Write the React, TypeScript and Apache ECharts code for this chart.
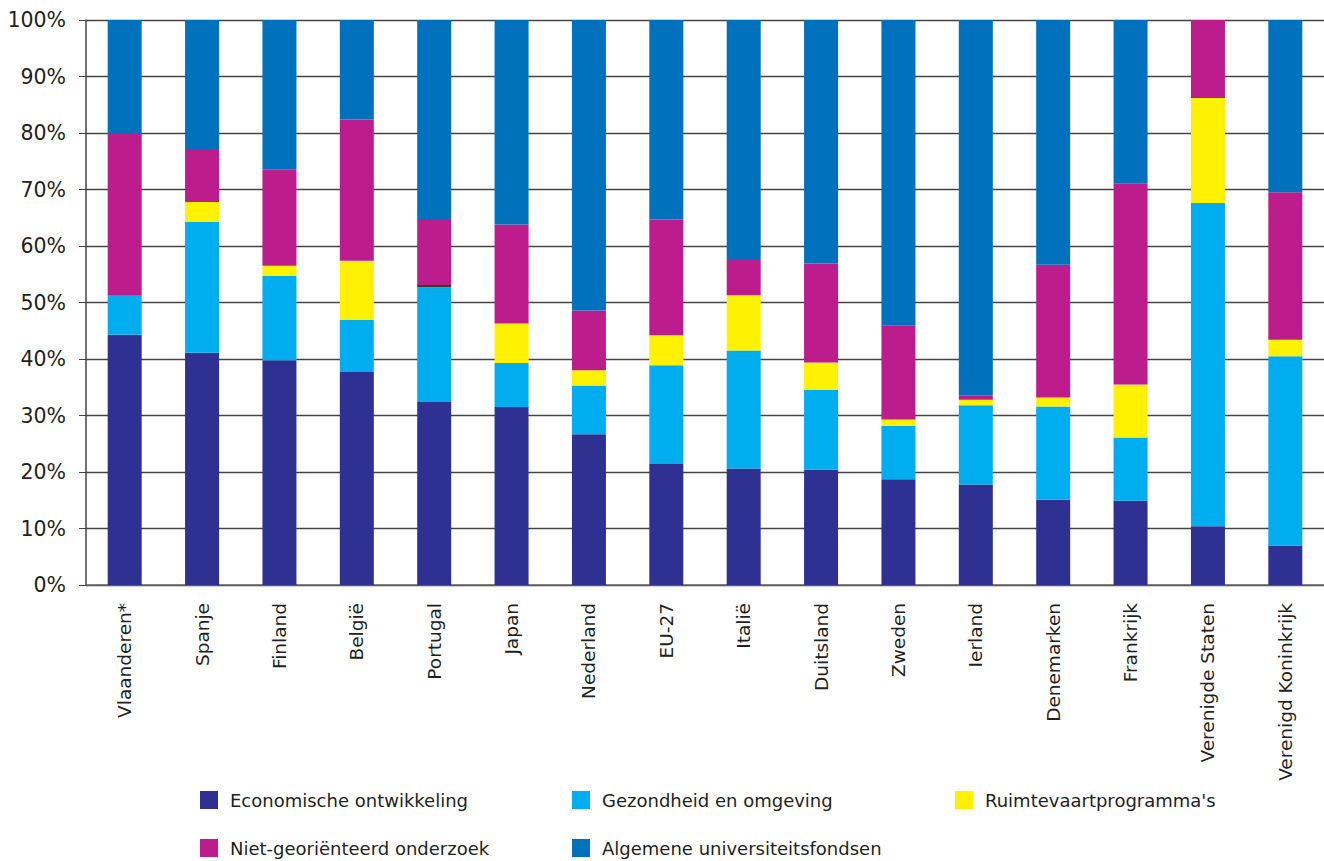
import React, { useEffect, useRef } from "react";
import * as echarts from "echarts";

const categories = [
  "Vlaanderen*", "Spanje", "Finland", "België", "Portugal", "Japan", "Nederland", "EU-27",
  "Italië", "Duitsland", "Zweden", "Ierland", "Denemarken", "Frankrijk", "Verenigde Staten", "Verenigd Koninkrijk",
];

const economisch = [44.3, 41.1, 39.8, 37.7, 32.4, 31.5, 26.7, 21.4, 20.6, 20.4, 18.7, 17.8, 15.1, 14.9, 10.4, 7.0];
const gezondheid = [6.9, 23.2, 14.9, 9.2, 20.3, 7.8, 8.6, 17.5, 20.9, 14.1, 9.5, 14.0, 16.5, 11.2, 57.2, 33.5];
const ruimtevaart = [0, 3.5, 1.8, 10.5, 0.4, 7.0, 2.7, 5.3, 9.8, 4.9, 1.1, 1.0, 1.6, 9.4, 18.6, 2.9];
const nietGeorienteerd = [28.8, 9.2, 17.0, 25.0, 11.7, 17.5, 10.6, 20.5, 6.4, 17.5, 16.6, 0.7, 23.5, 35.5, 13.8, 26.1];
const universiteit = [20.0, 23.0, 26.5, 17.6, 35.2, 36.2, 51.4, 35.3, 42.3, 43.1, 54.1, 66.5, 43.3, 29.0, 0, 30.5];

const yTicks = [0, 10, 20, 30, 40, 50, 60, 70, 80, 90, 100];

const seriesNames = [
  "Economische ontwikkeling",
  "Gezondheid en omgeving",
  "Ruimtevaartprogramma's",
  "Niet-georiënteerd onderzoek",
  "Algemene universiteitsfondsen",
];
const colors = ["#2E3192", "#00AEEF", "#FFF200", "#BC1C8C", "#0071BC"];

const legendPos = [
  { left: 200, top: 791 },
  { left: 572, top: 791 },
  { left: 955, top: 791 },
  { left: 200, top: 839 },
  { left: 572, top: 839 },
];

const FONT = "'DejaVu Sans', sans-serif";

export default function App() {
  const ref = useRef<HTMLDivElement>(null);
  useEffect(() => {
    if (!ref.current) return;
    const chart = echarts.init(ref.current, null, { renderer: "svg" });
    const dataSets = [economisch, gezondheid, ruimtevaart, nietGeorienteerd, universiteit];
    const series = dataSets.map((d, i) => ({
      name: seriesNames[i],
      type: "bar",
      stack: "total",
      barWidth: 34,
      itemStyle: { color: colors[i] },
      data: d.map((v, j) =>
        i === 2 && categories[j] === "Portugal"
          ? { value: v, itemStyle: { color: "#3b3b22" } }
          : v
      ),
    }));
    chart.setOption({
      animation: false,
      backgroundColor: "#ffffff",
      grid: { left: 86, top: 20, width: 1247, bottom: 276, containLabel: false },
      legend: seriesNames.map((n, i) => ({
        data: [n],
        left: legendPos[i].left,
        top: legendPos[i].top,
        padding: 0,
        icon: "rect",
        itemWidth: 18,
        itemHeight: 18,
        itemGap: 12,
        selectedMode: false,
        textStyle: { fontFamily: FONT, fontSize: 18, color: "#231F20", padding: [0, 0, 0, 7] },
      })),
      xAxis: {
        type: "category",
        data: categories,
        axisLine: { lineStyle: { color: "#666", width: 1.5 } },
        axisTick: { lineStyle: { color: "#444" }, length: 6 },
        axisLabel: {
          rotate: 90,
          margin: 18,
          fontFamily: FONT,
          fontSize: 18.5,
          color: "#231F20",
          interval: 0,
        },
      },
      yAxis: {
        type: "value",
        min: yTicks[0],
        max: yTicks[yTicks.length - 1],
        interval: 10,
        axisLine: { show: true, lineStyle: { color: "#444", width: 1.5 } },
        axisTick: { show: true, length: 7, lineStyle: { color: "#444" } },
        axisLabel: {
          formatter: (v: number) => v + "%",
          margin: 20,
          fontFamily: FONT,
          fontSize: 20.5,
          color: "#231F20",
        },
        splitLine: { show: true, lineStyle: { color: "#444", width: 1.4 } },
      },
      series,
    });
    return () => chart.dispose();
  }, []);
  return (
    <div
      ref={ref}
      style={{ position: "absolute", left: 0, top: 0, width: 1324, height: 861, background: "#fff" }}
    />
  );
}
